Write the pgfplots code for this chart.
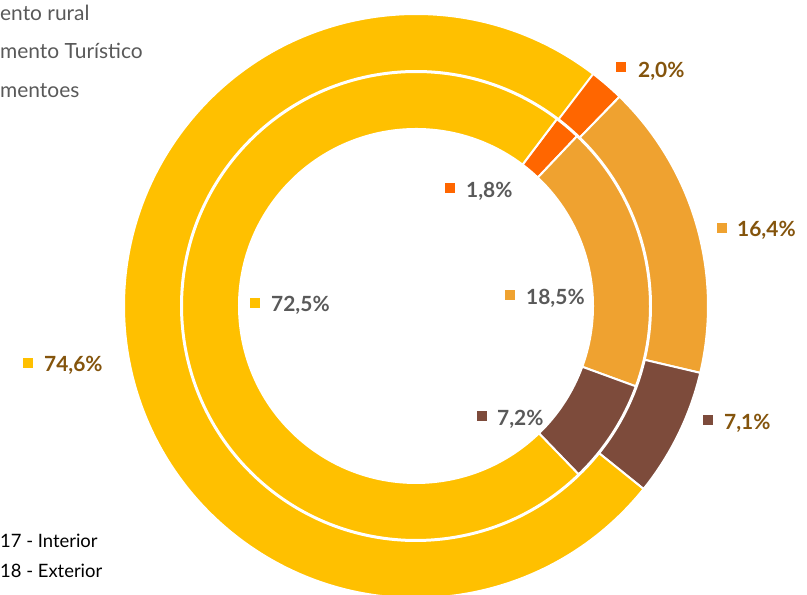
\documentclass[border=0pt]{standalone}
\usepackage{pgfplots}
\pgfplotsset{compat=1.18}
\usepackage{pgfplotstable}
\usepackage{fontspec}
\setmainfont{Lato}
\definecolor{cY}{HTML}{FFC000}
\definecolor{cDO}{HTML}{FF6600}
\definecolor{cLO}{HTML}{EFA230}
\definecolor{cBR}{HTML}{7D4B3B}
\definecolor{lblOut}{HTML}{84540C}
\definecolor{lblIn}{HTML}{595959}

% slice order clockwise from the first-slice angle (37 deg from top)
\pgfplotstableread{
col outer inner
cDO 2.0 1.8
cLO 16.4 18.5
cBR 7.1 7.2
cY 74.6 72.5
}\ringdata

\begin{document}
\begin{tikzpicture}
\useasboundingbox (0,0) rectangle (807bp,595bp);
\begin{axis}[at={(0,0)}, anchor=south west, scale only axis,
  width=807bp, height=595bp, xmin=0, xmax=807, ymin=0, ymax=595,
  hide axis, clip=true]
\def\cx{416}\def\cy{289}
\def\cumO{37}\def\cumI{37}
\pgfplotsforeachungrouped \i in {0,...,3}{%
  \pgfplotstablegetelem{\i}{col}\of\ringdata \let\col=\pgfplotsretval
  \pgfplotstablegetelem{\i}{outer}\of\ringdata \let\vo=\pgfplotsretval
  \pgfplotstablegetelem{\i}{inner}\of\ringdata \let\vi=\pgfplotsretval
  \pgfmathsetmacro\sa{90-\cumO}
  \pgfmathsetmacro\ea{90-\cumO-3.6*\vo}
  \pgfmathsetmacro\xa{\cx+292*cos(\sa)}\pgfmathsetmacro\ya{\cy+292*sin(\sa)}
  \pgfmathsetmacro\xb{\cx+235*cos(\ea)}\pgfmathsetmacro\yb{\cy+235*sin(\ea)}
  \edef\cmd{\noexpand\fill[\col, draw=white, line width=2bp] (axis cs:\xa,\ya) arc[start angle=\sa, end angle=\ea, radius=292bp] -- (axis cs:\xb,\yb) arc[start angle=\ea, end angle=\sa, radius=235bp] -- cycle;}
  \cmd
  \pgfmathsetmacro\cumO{\cumO+3.6*\vo}
  \pgfmathsetmacro\sa{90-\cumI}
  \pgfmathsetmacro\ea{90-\cumI-3.6*\vi}
  \pgfmathsetmacro\xa{\cx+234*cos(\sa)}\pgfmathsetmacro\ya{\cy+234*sin(\sa)}
  \pgfmathsetmacro\xb{\cx+177*cos(\ea)}\pgfmathsetmacro\yb{\cy+177*sin(\ea)}
  \edef\cmd{\noexpand\fill[\col, draw=white, line width=2bp] (axis cs:\xa,\ya) arc[start angle=\sa, end angle=\ea, radius=234bp] -- (axis cs:\xb,\yb) arc[start angle=\ea, end angle=\sa, radius=177bp] -- cycle;}
  \cmd
  \pgfmathsetmacro\cumI{\cumI+3.6*\vi}
}
% label markers
\addplot[only marks, mark=square*, mark size=4.5bp, color=cDO] coordinates {(621,528.5) (450,407.5)};
\addplot[only marks, mark=square*, mark size=4.5bp, color=cLO] coordinates {(721.5,367) (509.5,300)};
\addplot[only marks, mark=square*, mark size=4.5bp, color=cBR] coordinates {(708,175.5) (482,179)};
\addplot[only marks, mark=square*, mark size=4.5bp, color=cY] coordinates {(28,232.5) (255,292.5)};
% data labels
\begin{scope}[every node/.style={anchor=base west, inner sep=0pt, font=\fontsize{21}{23}\selectfont\bfseries}]
\node[text=lblOut] at (axis cs:638,517) {2,0\%};
\node[text=lblOut] at (axis cs:737,358) {16,4\%};
\node[text=lblOut] at (axis cs:724,165) {7,1\%};
\node[text=lblOut] at (axis cs:44,223) {74,6\%};
\node[text=lblIn] at (axis cs:466,397) {1,8\%};
\node[text=lblIn] at (axis cs:526,290) {18,5\%};
\node[text=lblIn] at (axis cs:497,169) {7,2\%};
\node[text=lblIn] at (axis cs:271,283) {72,5\%};
\end{scope}
% legends (cropped)
\begin{scope}[every node/.style={anchor=base west, inner sep=0pt, font=\fontsize{21}{23}\selectfont}]
\node[text=lblIn] at (axis cs:0,574) {ento rural};
\node[text=lblIn] at (axis cs:0,536) {mento Turístico};
\node[text=lblIn] at (axis cs:0,497) {mentoes};
\end{scope}
\begin{scope}[every node/.style={anchor=base west, inner sep=0pt, font=\fontsize{18.5}{20}\selectfont}]
\node[text=black] at (axis cs:0,47) {17 - Interior};
\node[text=black] at (axis cs:0,18) {18 - Exterior};
\end{scope}
\end{axis}
\end{tikzpicture}
\end{document}
